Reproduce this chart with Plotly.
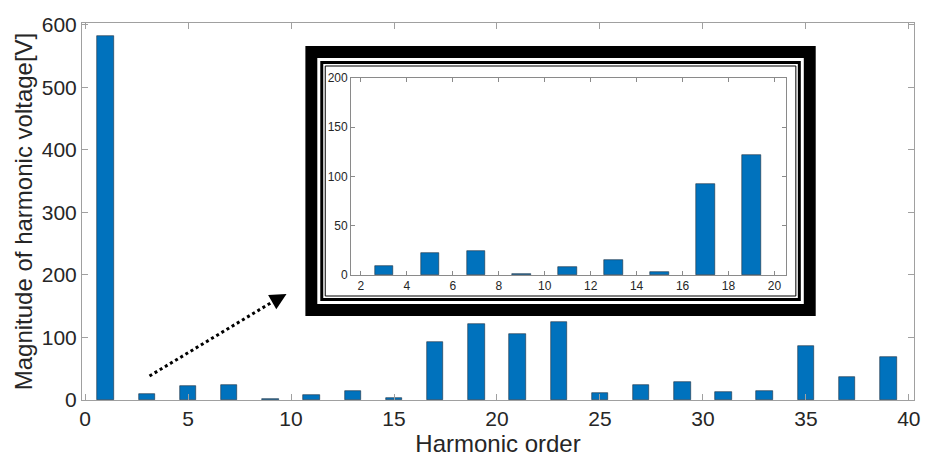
import plotly.graph_objects as go

# ---- data ----
harmonic_order = [1, 3, 5, 7, 9, 11, 13, 15, 17, 19, 21, 23, 25, 27, 29, 31, 33, 35, 37, 39]
magnitude_v = [583, 9, 22, 24, 1.5, 8, 15, 3, 92, 122, 106, 124, 11, 24, 29, 13, 14, 86, 37, 69]

inset_order = [3, 5, 7, 9, 11, 13, 15, 17, 19]
inset_magnitude = [9, 22, 24, 1.5, 8, 15, 3, 92, 122]

main_xticks = [0, 5, 10, 15, 20, 25, 30, 35, 40]
main_yticks = [0, 100, 200, 300, 400, 500, 600]
inset_xticks = [2, 4, 6, 8, 10, 12, 14, 16, 18, 20]
inset_yticks = [0, 50, 100, 150, 200]

W, H = 931, 465
L, R, T, B = 82, 920, 23, 400  # main plot area in pixels


def px(x):
    return (x - L) / (R - L)


def py(y):
    return (B - y) / (B - T)


BLUE = "#0072BD"
FONT = "Liberation Sans, Arial, sans-serif"
AXC = "#a0a0a0"
TXT = "#262626"

fig = go.Figure()
fig.add_trace(go.Bar(x=harmonic_order, y=magnitude_v, width=0.8,
                     marker=dict(color=BLUE, line=dict(color="#1f2f3f", width=0.6)),
                     xaxis="x", yaxis="y", showlegend=False))
fig.add_trace(go.Bar(x=inset_order, y=inset_magnitude, width=0.8,
                     marker=dict(color=BLUE, line=dict(color="#1f2f3f", width=0.6)),
                     xaxis="x2", yaxis="y2", showlegend=False))

shapes = []
# inset frame: thick outer band, white gap, black line, thin line
shapes.append(dict(type="rect", xref="paper", yref="paper", x0=px(307), x1=px(821), y0=py(316), y1=py(46),
                   fillcolor="black", line=dict(width=0), layer="below"))
shapes.append(dict(type="rect", xref="paper", yref="paper", x0=px(319), x1=px(809), y0=py(304), y1=py(58),
                   fillcolor="white", line=dict(width=0), layer="below"))
shapes.append(dict(type="rect", xref="paper", yref="paper", x0=px(322), x1=px(806), y0=py(301), y1=py(61),
                   fillcolor="black", line=dict(width=0), layer="below"))
shapes.append(dict(type="rect", xref="paper", yref="paper", x0=px(325), x1=px(803), y0=py(298), y1=py(64),
                   fillcolor="white", line=dict(width=0), layer="below"))
shapes.append(dict(type="rect", xref="paper", yref="paper", x0=px(327), x1=px(801), y0=py(296), y1=py(66),
                   fillcolor="rgba(0,0,0,0)", line=dict(color="black", width=1), layer="below"))
# dotted arrow line
shapes.append(dict(type="line", xref="paper", yref="paper", x0=px(150), y0=py(376), x1=px(277), y1=py(300),
                   line=dict(color="black", width=3, dash="dot"), layer="above"))

fig.update_layout(
    width=W, height=H,
    margin=dict(l=L, r=W - R, t=T, b=H - B),
    paper_bgcolor="white", plot_bgcolor="white",
    font=dict(family=FONT, color=TXT),
    bargap=0,
    xaxis=dict(domain=[0, 1], range=[-0.15, 40.25], tickvals=main_xticks,
               showline=True, linecolor=AXC, linewidth=1, mirror="ticks",
               ticks="inside", ticklen=6, tickcolor=AXC, showgrid=False, zeroline=False,
               tickfont=dict(size=21, color=TXT),
               title=dict(text="Harmonic order", font=dict(size=24, color=TXT), standoff=3)),
    yaxis=dict(domain=[0, 1], range=[0, 603], tickvals=main_yticks,
               showline=True, linecolor=AXC, linewidth=1, mirror="ticks",
               ticks="inside", ticklen=6, tickcolor=AXC, showgrid=False, zeroline=False,
               tickfont=dict(size=21, color=TXT),
               title=dict(text="Magnitude of harmonic voltage[V]", font=dict(size=24, color=TXT), standoff=2)),
    xaxis2=dict(domain=[px(353), px(791)], anchor="y2", range=[1.57, 20.5], tickvals=inset_xticks,
                showline=True, linecolor="#8a8a8a", linewidth=1, mirror="ticks",
                ticks="inside", ticklen=4, tickcolor="#8a8a8a", showgrid=False, zeroline=False,
                tickfont=dict(size=12, color=TXT)),
    yaxis2=dict(domain=[py(275), py(78)], anchor="x2", range=[0, 200], tickvals=inset_yticks,
                showline=True, linecolor="#8a8a8a", linewidth=1, mirror="ticks",
                ticks="inside", ticklen=4, tickcolor="#8a8a8a", showgrid=False, zeroline=False,
                tickfont=dict(size=12, color=TXT)),
    shapes=shapes,
    annotations=[dict(xref="paper", yref="paper", x=px(288), y=py(294), ax=-14, ay=8,
                      showarrow=True, arrowhead=2, arrowsize=1.1,
                      arrowwidth=3, arrowcolor="black", text="")],
)

fig.write_html("out.html")
